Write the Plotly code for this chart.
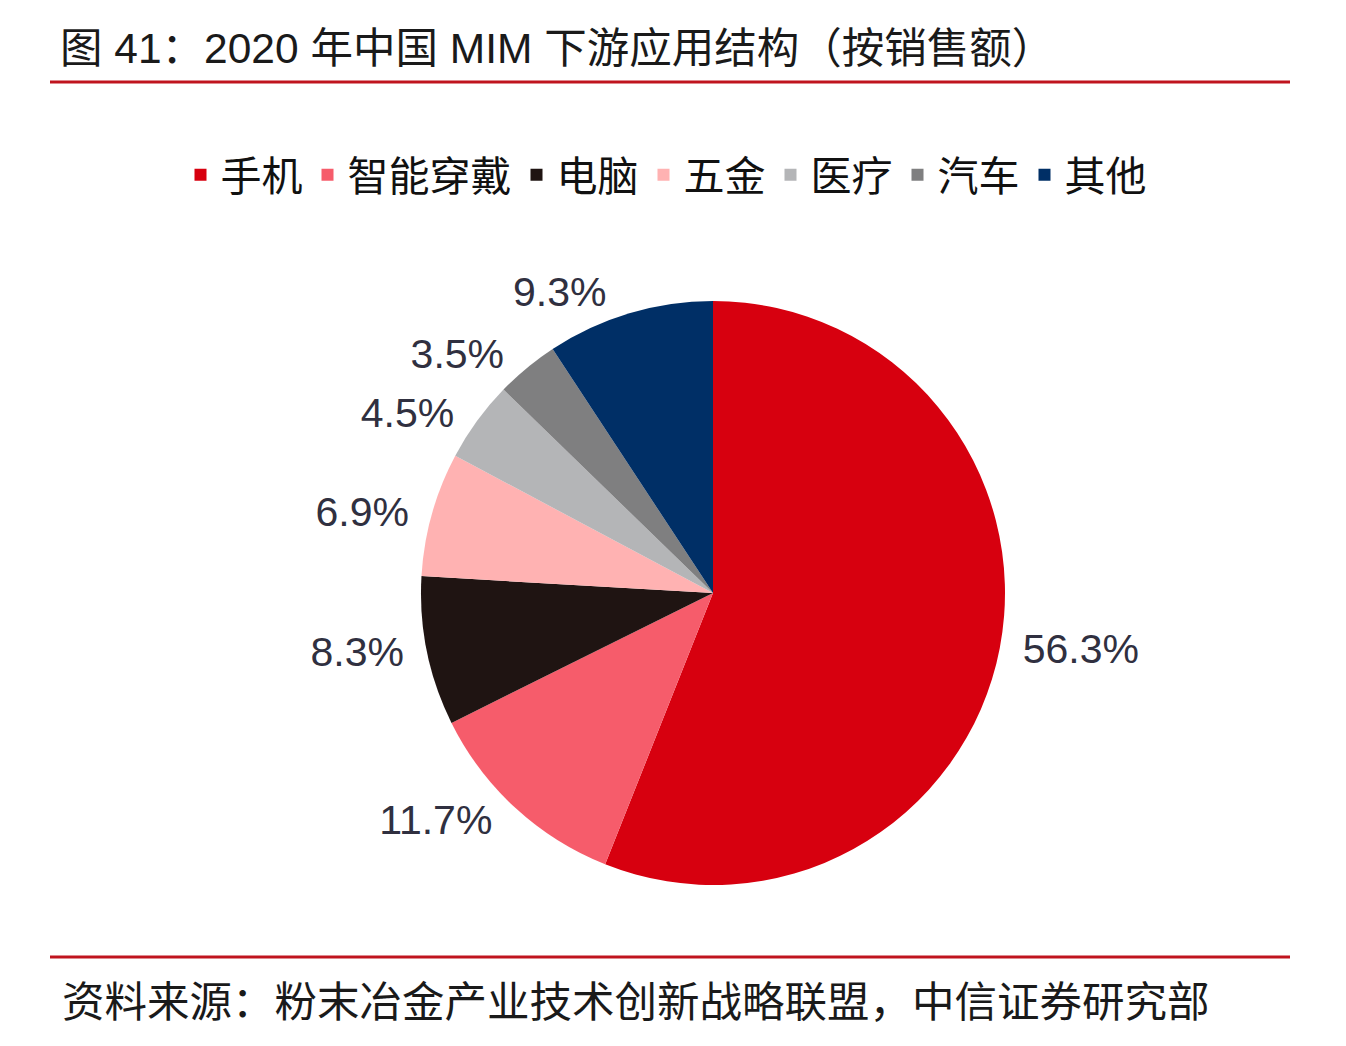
import plotly.graph_objects as go

categories = ["手机", "智能穿戴", "电脑", "五金", "医疗", "汽车", "其他"]
values = [56.3, 11.7, 8.3, 6.9, 4.5, 3.5, 9.3]
colors = ["#D7000F", "#F65C6B", "#1F1412", "#FFB2B2", "#B4B5B7", "#7F7F80", "#002F66"]
label_text = ["\u00a0" + f"{values[0]}%"] + [f"{v}%" + "\u00a0" for v in values[1:]]

title_text = "图 41：2020 年中国 MIM 下游应用结构（按销售额）"
source_text = "资料来源：粉末冶金产业技术创新战略联盟，中信证券研究部"

# page has an 8px body margin; work in page pixels and convert
OFF = 8
W, H = 1338, 1038


def px(x):
    return (x - OFF) / W


def py(y):
    return 1 - (y - OFF) / H


cx, cy, r = 713, 593, 292

fig = go.Figure(go.Pie(
    labels=categories,
    values=values,
    text=label_text,
    textinfo="text",
    textposition="outside",
    sort=False,
    direction="clockwise",
    rotation=0,
    marker=dict(colors=colors, line=dict(width=0)),
    textfont=dict(size=41, color="#303040", family="Liberation Sans, Arial, sans-serif"),
    domain=dict(x=[px(cx - r), px(cx + r)], y=[py(cy + r), py(cy - r)]),
    automargin=False,
    hoverinfo="label+text",
))

fig.update_layout(
    width=W, height=H,
    margin=dict(l=0, r=0, t=0, b=0),
    paper_bgcolor="white",
    plot_bgcolor="white",
    font=dict(family="Liberation Sans, Noto Sans CJK SC, sans-serif", color="#111111"),
    title=dict(
        text=title_text,
        x=px(60), xanchor="left",
        y=py(48), yanchor="middle",
        font=dict(size=42.5, color="#1a1a1a", family="Liberation Sans, Noto Sans CJK SC, sans-serif"),
    ),
    showlegend=True,
    legend=dict(
        orientation="h",
        x=px(666), xanchor="center",
        y=py(175), yanchor="middle",
        font=dict(size=41, color="#111111", family="Noto Sans CJK SC, sans-serif"),
        itemwidth=30,
        tracegroupgap=0,
        traceorder="normal",
    ),
    shapes=[
        dict(type="line", xref="paper", yref="paper", x0=px(50), x1=px(1290),
             y0=py(82), y1=py(82), line=dict(color="#C0141E", width=3)),
        dict(type="line", xref="paper", yref="paper", x0=px(50), x1=px(1290),
             y0=py(957), y1=py(957), line=dict(color="#C0141E", width=3)),
    ],
    annotations=[
        dict(text=source_text, xref="paper", yref="paper", x=px(60), y=py(998),
             xanchor="left", yanchor="middle", showarrow=False,
             font=dict(size=42.5, color="#1a1a1a", family="Noto Sans CJK SC, sans-serif")),
    ],
)

fig.write_html("out.html")
